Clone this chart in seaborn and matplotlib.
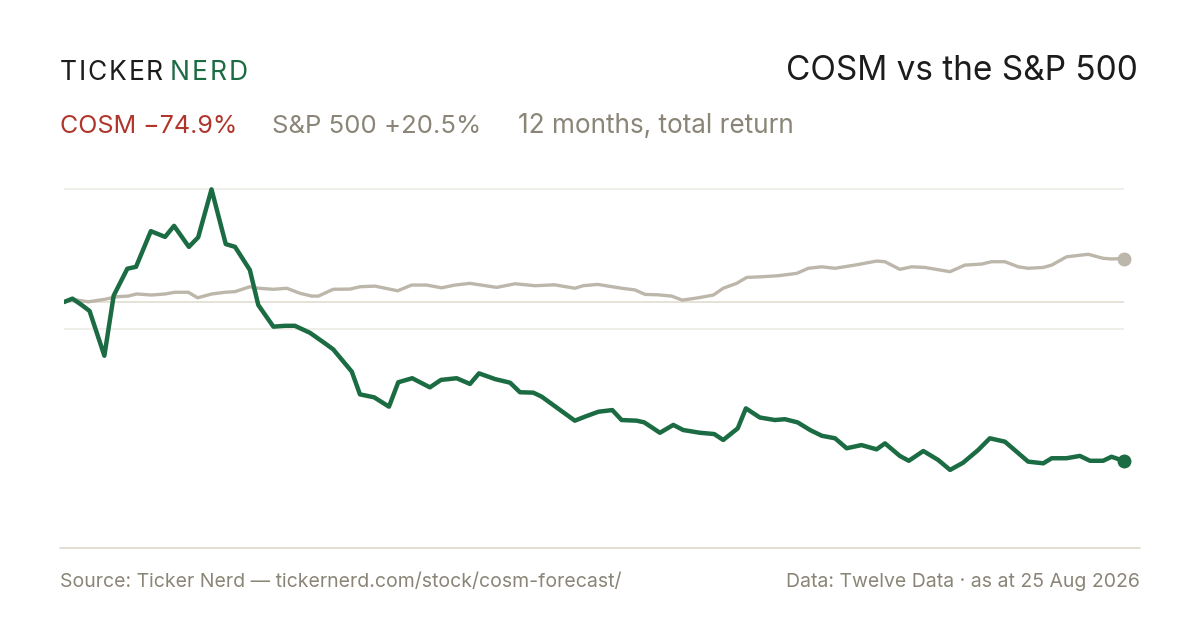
import matplotlib
matplotlib.use("Agg")
import matplotlib.pyplot as plt
import numpy as np
import pandas as pd
import seaborn as sns

# --- data: total return in %, days since 25 Aug 2025 ---
cosm_day = [0, 2.9, 6.1, 8.8, 13.9, 17.1, 21.8, 24.8, 29.9, 34.8, 37.9, 43.0,
            46.2, 50.8, 55.7, 58.9, 64.0, 66.9, 72.1, 76.1, 79.5, 84.7, 89.9,
            92.7, 99.1, 101.9, 106.8, 111.9, 115.1, 119.9, 126.0, 129.8, 135.2,
            139.8, 142.9, 148.4, 153.6, 157.0, 161.6, 164.5, 175.9, 179.4,
            184.0, 188.8, 192.0, 197.2, 199.8, 205.2, 209.8, 213.2, 219.0,
            223.9, 227.0, 232.0, 234.8, 239.6, 244.8, 248.2, 252.6, 256.9,
            260.9, 265.5, 269.5, 274.6, 279.8, 282.7, 287.8, 290.9, 295.9,
            301.0, 305.1, 309.6, 314.8, 318.8, 324.0, 332.0, 337.2, 340.1,
            345.2, 349.8, 353.3, 357.8, 360.7, 365]
cosm_ret = [0, 1.6, -1.4, -4.2, -25.3, 3.0, 15.7, 16.6, 33.4, 30.7, 35.9, 26.0,
            30.5, 53.1, 27.3, 26.0, 15.1, -1.4, -11.6, -11.2, -11.2, -14.5,
            -19.5, -22.3, -32.8, -43.5, -44.9, -49.3, -37.8, -35.9, -40.2,
            -36.7, -35.9, -38.6, -33.6, -36.3, -38.0, -42.5, -42.7, -44.6,
            -55.9, -54.0, -51.7, -50.9, -55.6, -55.9, -56.7, -61.6, -57.9,
            -60.3, -61.6, -62.2, -65.0, -59.5, -50.1, -54.4, -55.6, -55.2,
            -56.7, -60.3, -63.0, -64.2, -68.9, -67.4, -69.4, -66.6, -72.5,
            -74.8, -70.2, -74.4, -79.1, -75.7, -69.7, -64.2, -65.8, -75.2,
            -76.0, -73.6, -73.6, -72.5, -74.8, -74.8, -72.9, -74.9]

spx_day = [0, 3.2, 8.4, 14.1, 18.1, 22.1, 25.0, 30.2, 34.8, 38.2, 42.8, 46.0,
           50.9, 55.4, 58.9, 64.0, 66.9, 72.1, 76.7, 81.3, 85.3, 87.6, 92.7,
           98.5, 101.9, 107.1, 114.9, 119.7, 124.9, 130.0, 134.6, 139.8,
           149.0, 155.3, 162.2, 169.0, 175.9, 178.8, 183.8, 192.0, 196.6,
           200.1, 204.6, 209.2, 212.9, 218.4, 223.6, 227.0, 231.6, 235.1,
           240.2, 245.9, 252.3, 256.3, 260.9, 265.5, 272.3, 279.8, 282.7,
           287.8, 291.9, 296.4, 305.1, 310.2, 316.0, 319.4, 324.0, 328.6,
           332.0, 337.2, 340.1, 345.2, 352.7, 357.8, 360.7, 365]
spx_ret = [0, 1.2, 0.1, 1.3, 2.5, 2.8, 3.8, 3.3, 3.8, 4.6, 4.6, 2.0, 3.8, 4.6,
           4.9, 7.2, 6.5, 6.0, 6.5, 4.1, 2.8, 2.8, 6.0, 6.1, 7.2, 7.5, 5.3,
           8.0, 8.0, 6.7, 8.0, 8.8, 6.9, 8.6, 7.7, 8.1, 6.5, 7.7, 8.3, 6.5,
           5.7, 3.6, 3.4, 2.8, 0.9, 2.0, 3.3, 6.5, 8.8, 11.6, 11.9, 12.4,
           13.5, 15.9, 16.6, 15.9, 17.4, 19.3, 19.0, 15.4, 16.6, 16.3, 14.3,
           17.4, 17.9, 19.0, 19.0, 16.6, 15.9, 16.3, 17.4, 21.3, 22.5, 20.6,
           20.3, 20.5]

grid_levels = [53.2, -12.7]

GREEN = "#1b6b43"
SAND = "#bdb6aa"
RED = "#b0352b"
MUTED = "#8a8577"
INK = "#1c1c1c"

sns.set_theme(style="white")
plt.rcParams["font.family"] = ["Inter", "DejaVu Sans"]

df = pd.concat([
    pd.DataFrame({"day": spx_day, "ret": spx_ret, "series": "S&P 500"}),
    pd.DataFrame({"day": cosm_day, "ret": cosm_ret, "series": "COSM"}),
])

fig = plt.figure(figsize=(12, 6.3), dpi=100)
ax = fig.add_axes([64 / 1200, 1 - 520 / 630, 1060 / 1200, 340 / 630])

for y in grid_levels:
    ax.axhline(y, color="#eeebe4", lw=1.2, zorder=0)
ax.axhline(0, color="#e2ddd0", lw=1.2, zorder=0)

sns.lineplot(data=df[df.series == "S&P 500"], x="day", y="ret", ax=ax,
             color=SAND, lw=2.4, zorder=2)
sns.lineplot(data=df[df.series == "COSM"], x="day", y="ret", ax=ax,
             color=GREEN, lw=3.2, zorder=3)
ax.plot(spx_day[-1], spx_ret[-1], "o", color=SAND, ms=9, zorder=4,
        clip_on=False)
ax.plot(cosm_day[-1], cosm_ret[-1], "o", color=GREEN, ms=9, zorder=4,
        clip_on=False)

ax.set_xlim(0, 365)
ax.set_ylim(-102.7, 57.5)
ax.set_axis_off()


def tracked(x_px, y_px, s, color, size, track_px):
    # letter-spaced wordmark; returns x after the last letter
    r = fig.canvas.get_renderer()
    for ch in s:
        t = fig.text(x_px / 1200, 1 - y_px / 630, ch, fontsize=size,
                     color=color, va="baseline", ha="left")
        x_px += t.get_window_extent(r).width + track_px
    return x_px


# header
tracked(60, 80, "TICKER", INK, 19, 1.8)
tracked(170, 80, "NERD", GREEN, 19, 1.8)
fig.text(1138 / 1200, 1 - 80 / 630, "COSM vs the S&P 500", fontsize=24,
         color=INK, va="baseline", ha="right")
fig.text(60 / 1200, 1 - 133 / 630, "COSM \u221274.9%", fontsize=18, color=RED,
         va="baseline", ha="left")
fig.text(272 / 1200, 1 - 133 / 630, "S&P 500 +20.5%", fontsize=18.5,
         color=MUTED, va="baseline", ha="left")
fig.text(518 / 1200, 1 - 133 / 630, "12 months, total return", fontsize=18.8,
         color=MUTED, va="baseline", ha="left")

# footer
fig.add_artist(plt.Line2D([60 / 1200, 1140 / 1200], [1 - 548 / 630] * 2,
                          color="#dcd8cc", lw=1.2, transform=fig.transFigure))
fig.text(60 / 1200, 1 - 587 / 630,
         "Source: Ticker Nerd \u2014 tickernerd.com/stock/cosm-forecast/",
         fontsize=14, color=MUTED, va="baseline", ha="left")
fig.text(1140 / 1200, 1 - 587 / 630, "Data: Twelve Data \u00b7 as at 25 Aug 2026",
         fontsize=14, color=MUTED, va="baseline", ha="right")

fig.savefig("out.png", dpi=100, facecolor="white")
